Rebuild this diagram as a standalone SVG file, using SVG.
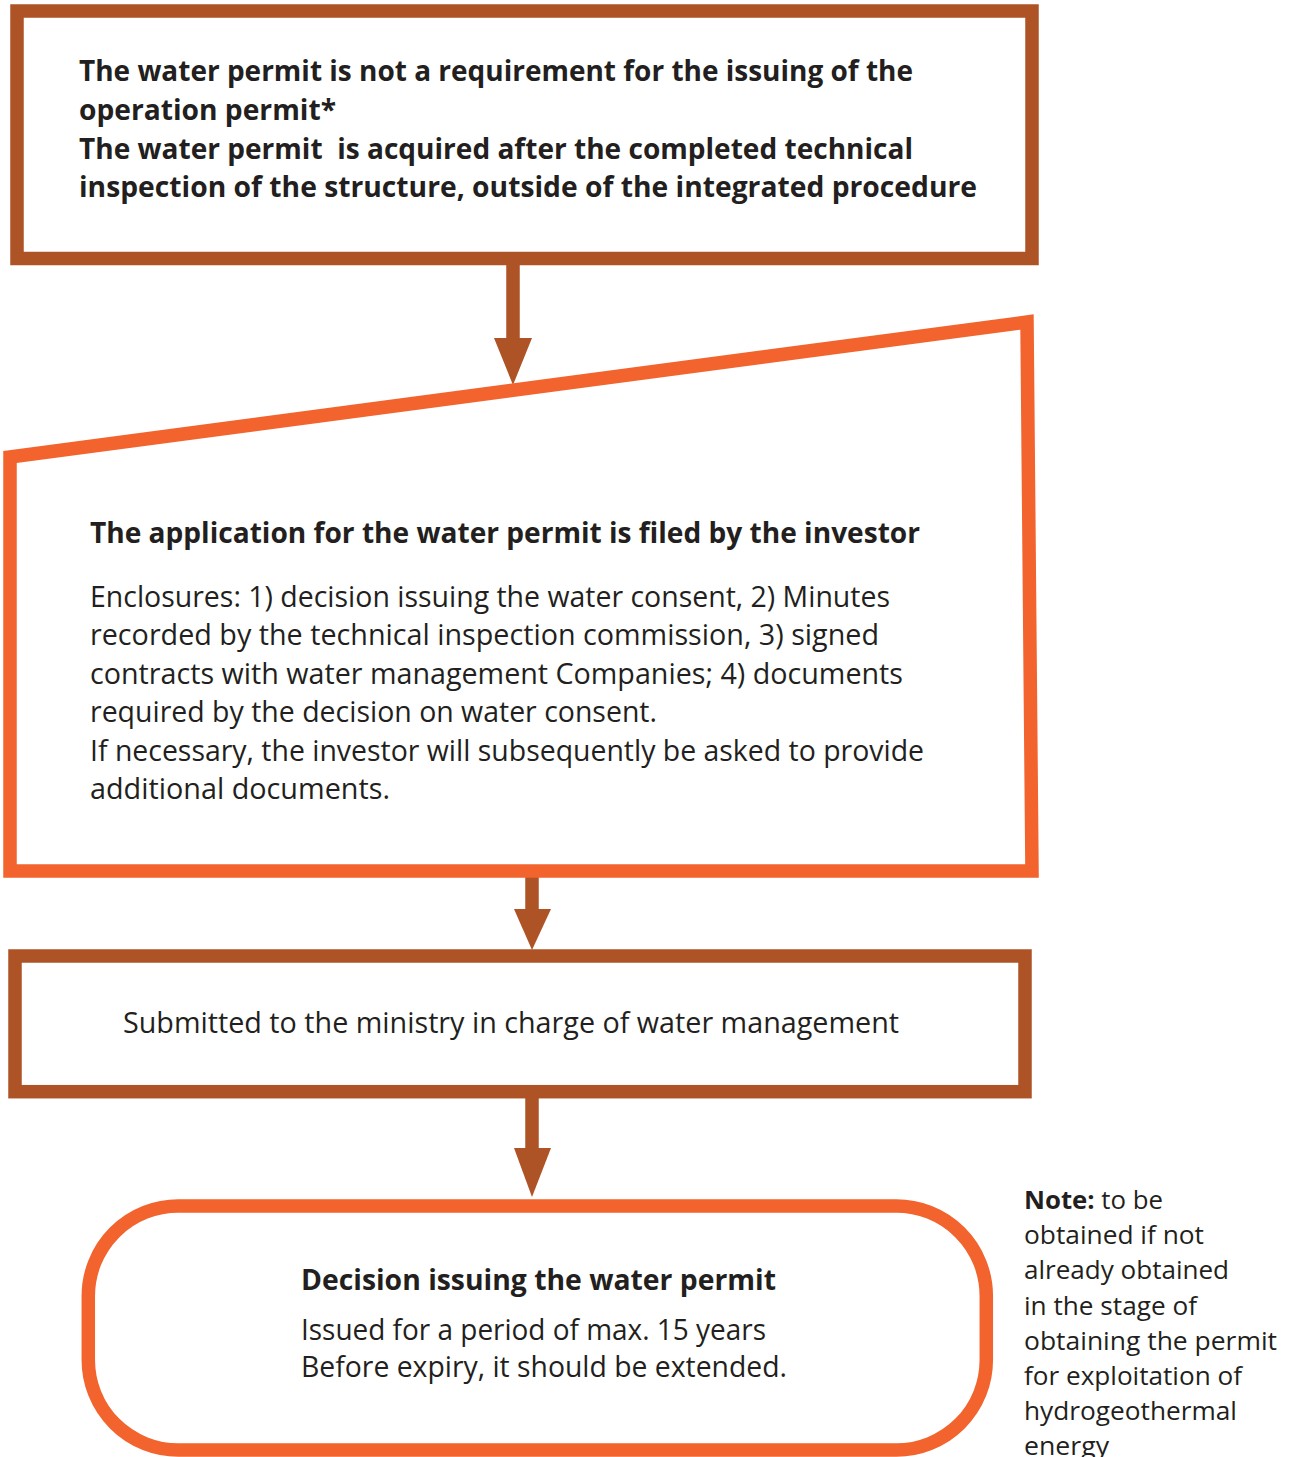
<svg xmlns="http://www.w3.org/2000/svg" width="1291" height="1457" viewBox="0 0 1291 1457">
<style>
.brown{fill:#fff;stroke:#AE5325;stroke-width:13.5}
.orange{fill:#fff;stroke:#F2632D;stroke-width:13.5}
.shaft{stroke:#AE5325;stroke-width:13.5;fill:none}
.head{fill:#AE5325}
text{font-family:"Open Sans","Noto Sans","Liberation Sans",sans-serif;fill:#231F20}
.b{font-weight:bold;font-size:29px}
.r{font-size:29px}
.n{font-size:25px}
</style>
<rect width="1291" height="1457" fill="#fff"/>
<g id="connectors">
<line class="shaft" x1="513" y1="265" x2="513" y2="342"/>
<polygon class="head" points="494,338 532,338 513,385"/>
<line class="shaft" x1="532" y1="874" x2="532" y2="912"/>
<polygon class="head" points="514,909 551,909 532,950"/>
<line class="shaft" x1="532" y1="1098" x2="532" y2="1151"/>
<polygon class="head" points="514,1148 551,1148 532,1197"/>
</g>
<g id="node-top">
<rect class="brown" x="17" y="11" width="1015" height="247.5"/>
<text class="b" x="79" y="81" textLength="834" lengthAdjust="spacingAndGlyphs">The water permit is not a requirement for the issuing of the</text>
<text class="b" x="79" y="120" textLength="257" lengthAdjust="spacingAndGlyphs">operation permit*</text>
<text class="b" x="79" y="159" textLength="834" lengthAdjust="spacingAndGlyphs" xml:space="preserve">The water permit  is acquired after the completed technical</text>
<text class="b" x="79" y="197" textLength="898" lengthAdjust="spacingAndGlyphs">inspection of the structure, outside of the integrated procedure</text>
</g>
<g id="node-application">
<polygon class="orange" points="10,457 1027,322 1032,871 10,871"/>
<text class="b" x="90" y="543" textLength="830" lengthAdjust="spacingAndGlyphs">The application for the water permit is filed by the investor</text>
<text class="r" x="90" y="607" textLength="800" lengthAdjust="spacingAndGlyphs">Enclosures: 1) decision issuing the water consent, 2) Minutes</text>
<text class="r" x="90" y="645" textLength="789" lengthAdjust="spacingAndGlyphs">recorded by the technical inspection commission, 3) signed</text>
<text class="r" x="90" y="684" textLength="813" lengthAdjust="spacingAndGlyphs">contracts with water management Companies; 4) documents</text>
<text class="r" x="90" y="722" textLength="567" lengthAdjust="spacingAndGlyphs">required by the decision on water consent.</text>
<text class="r" x="90" y="761" textLength="834" lengthAdjust="spacingAndGlyphs">If necessary, the investor will subsequently be asked to provide</text>
<text class="r" x="90" y="799" textLength="300" lengthAdjust="spacingAndGlyphs">additional documents.</text>
</g>
<g id="node-ministry">
<rect class="brown" x="15" y="956" width="1010" height="135.7"/>
<text class="r" x="123" y="1033" textLength="776" lengthAdjust="spacingAndGlyphs">Submitted to the ministry in charge of water management</text>
</g>
<g id="node-decision">
<rect class="orange" x="88.3" y="1206" width="898" height="244" rx="90" ry="90"/>
<text class="b" x="301" y="1290" textLength="475" lengthAdjust="spacingAndGlyphs">Decision issuing the water permit</text>
<text class="r" x="301" y="1340" textLength="465" lengthAdjust="spacingAndGlyphs">Issued for a period of max. 15 years</text>
<text class="r" x="301" y="1377" textLength="486" lengthAdjust="spacingAndGlyphs">Before expiry, it should be extended.</text>
</g>
<g id="node-note">
<text class="n" x="1024" y="1209" textLength="139" lengthAdjust="spacingAndGlyphs"><tspan font-weight="bold">Note:</tspan> to be</text>
<text class="n" x="1024" y="1244" textLength="180" lengthAdjust="spacingAndGlyphs">obtained if not</text>
<text class="n" x="1024" y="1279" textLength="205" lengthAdjust="spacingAndGlyphs">already obtained</text>
<text class="n" x="1024" y="1315" textLength="173" lengthAdjust="spacingAndGlyphs">in the stage of</text>
<text class="n" x="1024" y="1350" textLength="253" lengthAdjust="spacingAndGlyphs">obtaining the permit</text>
<text class="n" x="1024" y="1385" textLength="218" lengthAdjust="spacingAndGlyphs">for exploitation of</text>
<text class="n" x="1024" y="1420" textLength="213" lengthAdjust="spacingAndGlyphs">hydrogeothermal</text>
<text class="n" x="1024" y="1455" textLength="85" lengthAdjust="spacingAndGlyphs">energy</text>
</g>
</svg>
